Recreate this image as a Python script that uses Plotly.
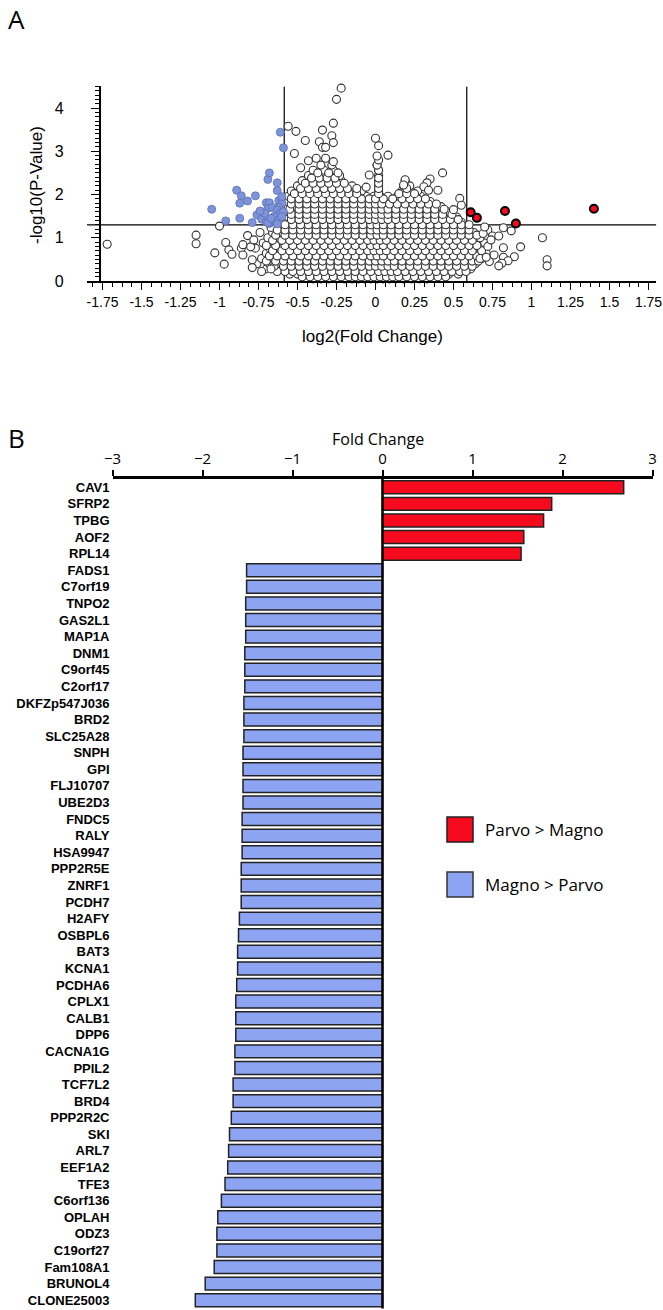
import plotly.graph_objects as go

# ---------------- Panel A data (volcano plot, hand-estimated) ----------------
# dense cloud, listed by rows: row y value and the x positions on that row
cloud_row_y = [0.05, 0.16, 0.28, 0.40, 0.52, 0.64, 0.76, 0.88, 1.00, 1.12, 1.24,
               1.36, 1.48, 1.60, 1.72, 1.84, 1.96, 2.08, 2.20, 2.32, 2.44, 2.56, 2.68]
cloud_row_x = [
    [-0.40, -0.35, -0.30, -0.25, -0.20, -0.15, -0.11, -0.07, -0.03, 0.01, 0.05, 0.09, 0.13, 0.18, 0.23, 0.28, 0.33],
    [-0.55, -0.50, -0.45, -0.40, -0.35, -0.30, -0.25, -0.20, -0.15, -0.10, -0.05, 0.00, 0.04, 0.08, 0.12, 0.17, 0.22, 0.27, 0.32, 0.37, 0.42, 0.47, 0.53],
    [-0.70, -0.60, -0.56, -0.51, -0.46, -0.41, -0.36, -0.31, -0.26, -0.21, -0.16, -0.11, -0.06, -0.01, 0.03, 0.07, 0.11, 0.15, 0.20, 0.25, 0.30, 0.35, 0.40, 0.45, 0.50, 0.55, 0.61],
    [-0.76, -0.68, -0.62, -0.57, -0.52, -0.47, -0.42, -0.37, -0.32, -0.27, -0.22, -0.17, -0.12, -0.07, -0.02, 0.02, 0.06, 0.10, 0.14, 0.19, 0.24, 0.29, 0.34, 0.39, 0.44, 0.49, 0.54, 0.59, 0.64],
    [-0.73, -0.66, -0.61, -0.56, -0.51, -0.46, -0.41, -0.36, -0.31, -0.26, -0.21, -0.16, -0.11, -0.06, -0.01, 0.03, 0.07, 0.12, 0.17, 0.22, 0.27, 0.32, 0.37, 0.42, 0.47, 0.52, 0.57, 0.62, 0.68],
    [-0.70, -0.63, -0.58, -0.53, -0.48, -0.43, -0.38, -0.33, -0.28, -0.23, -0.18, -0.13, -0.08, -0.03, 0.01, 0.05, 0.09, 0.14, 0.19, 0.24, 0.29, 0.34, 0.39, 0.44, 0.49, 0.54, 0.59, 0.64, 0.71],
    [-0.77, -0.68, -0.61, -0.56, -0.51, -0.46, -0.41, -0.36, -0.31, -0.26, -0.21, -0.16, -0.11, -0.06, -0.01, 0.03, 0.07, 0.12, 0.17, 0.22, 0.27, 0.32, 0.37, 0.42, 0.47, 0.52, 0.57, 0.62, 0.67],
    [-0.72, -0.64, -0.58, -0.53, -0.48, -0.43, -0.38, -0.33, -0.28, -0.23, -0.18, -0.13, -0.08, -0.03, 0.01, 0.05, 0.09, 0.14, 0.19, 0.24, 0.29, 0.34, 0.39, 0.44, 0.49, 0.54, 0.59, 0.64, 0.70],
    [-0.69, -0.62, -0.56, -0.51, -0.46, -0.41, -0.36, -0.31, -0.26, -0.21, -0.16, -0.11, -0.06, -0.01, 0.03, 0.07, 0.12, 0.17, 0.22, 0.27, 0.32, 0.37, 0.42, 0.47, 0.52, 0.57, 0.62, 0.67],
    [-0.74, -0.66, -0.60, -0.55, -0.50, -0.45, -0.40, -0.35, -0.30, -0.25, -0.20, -0.15, -0.10, -0.05, 0.00, 0.04, 0.08, 0.13, 0.18, 0.23, 0.28, 0.33, 0.38, 0.43, 0.48, 0.53, 0.58, 0.63],
    [-0.67, -0.61, -0.56, -0.51, -0.46, -0.41, -0.36, -0.31, -0.26, -0.21, -0.16, -0.11, -0.06, -0.01, 0.03, 0.07, 0.12, 0.17, 0.22, 0.27, 0.32, 0.37, 0.42, 0.47, 0.52, 0.57],
    [-0.57, -0.52, -0.47, -0.42, -0.37, -0.32, -0.27, -0.22, -0.17, -0.12, -0.07, -0.02, 0.02, 0.06, 0.10, 0.15, 0.20, 0.25, 0.30, 0.35, 0.40, 0.45, 0.50, 0.55],
    [-0.56, -0.51, -0.46, -0.41, -0.36, -0.31, -0.26, -0.21, -0.16, -0.11, -0.06, -0.01, 0.03, 0.07, 0.12, 0.17, 0.22, 0.27, 0.32, 0.37, 0.42, 0.47, 0.52],
    [-0.57, -0.52, -0.47, -0.42, -0.37, -0.32, -0.27, -0.22, -0.17, -0.12, -0.07, -0.02, 0.02, 0.06, 0.10, 0.15, 0.20, 0.25, 0.30, 0.35, 0.40, 0.46],
    [-0.56, -0.51, -0.46, -0.41, -0.36, -0.31, -0.26, -0.21, -0.16, -0.11, -0.06, -0.01, 0.03, 0.07, 0.12, 0.17, 0.22, 0.27, 0.32, 0.37, 0.42],
    [-0.57, -0.52, -0.47, -0.42, -0.37, -0.32, -0.27, -0.22, -0.17, -0.12, -0.07, -0.02, 0.02, 0.06, 0.10, 0.15, 0.20, 0.25, 0.30, 0.35],
    [-0.56, -0.51, -0.46, -0.41, -0.36, -0.31, -0.26, -0.21, -0.16, -0.11, -0.06, -0.01, 0.03, 0.08, 0.14, 0.19, 0.24, 0.29],
    [-0.54, -0.49, -0.44, -0.39, -0.34, -0.29, -0.24, -0.19, -0.14, -0.09, 0.02, 0.17, 0.22, 0.27],
    [-0.50, -0.45, -0.40, -0.35, -0.30, -0.25, -0.20, -0.15, 0.02, 0.18, 0.22],
    [-0.47, -0.42, -0.37, -0.32, -0.27, -0.22, 0.02, 0.19],
    [-0.43, -0.38, -0.33, -0.28, -0.23, 0.02],
    [-0.40, -0.33, -0.27, 0.02],
    [-0.35, -0.28, 0.01],
]
# in-between rows of the same cloud (the circles overlap heavily in the original)
cloud2_row_y = [0.10, 0.22, 0.34, 0.46, 0.58, 0.70, 0.82, 0.94, 1.06, 1.18, 1.30,
                1.42, 1.54, 1.66, 1.78, 1.90, 2.02, 2.14, 2.26, 2.38, 2.50]
cloud2_row_x = [
    [-0.47, -0.42, -0.37, -0.32, -0.27, -0.22, -0.17, -0.13, -0.09, -0.05, -0.01, 0.03, 0.07, 0.11, 0.15, 0.20, 0.25, 0.30, 0.35, 0.40, 0.45],
    [-0.63, -0.58, -0.53, -0.48, -0.43, -0.38, -0.33, -0.28, -0.23, -0.18, -0.13, -0.08, -0.03, 0.02, 0.06, 0.10, 0.14, 0.19, 0.24, 0.29, 0.34, 0.39, 0.44, 0.49, 0.54, 0.58],
    [-0.65, -0.59, -0.54, -0.49, -0.44, -0.39, -0.34, -0.29, -0.24, -0.19, -0.14, -0.09, -0.04, 0.00, 0.04, 0.08, 0.12, 0.17, 0.22, 0.27, 0.32, 0.37, 0.42, 0.47, 0.52, 0.57, 0.62],
    [-0.70, -0.64, -0.59, -0.54, -0.49, -0.44, -0.39, -0.34, -0.29, -0.24, -0.19, -0.14, -0.09, -0.04, 0.00, 0.04, 0.08, 0.12, 0.17, 0.22, 0.27, 0.32, 0.37, 0.42, 0.47, 0.52, 0.57, 0.62, 0.66],
    [-0.68, -0.63, -0.58, -0.53, -0.48, -0.43, -0.38, -0.33, -0.28, -0.23, -0.18, -0.13, -0.08, -0.03, 0.01, 0.05, 0.10, 0.15, 0.20, 0.25, 0.30, 0.35, 0.40, 0.45, 0.50, 0.55, 0.60, 0.65],
    [-0.66, -0.60, -0.55, -0.50, -0.45, -0.40, -0.35, -0.30, -0.25, -0.20, -0.15, -0.10, -0.05, -0.01, 0.03, 0.07, 0.12, 0.17, 0.22, 0.27, 0.32, 0.37, 0.42, 0.47, 0.52, 0.57, 0.62, 0.68],
    [-0.70, -0.64, -0.58, -0.53, -0.48, -0.43, -0.38, -0.33, -0.28, -0.23, -0.18, -0.13, -0.08, -0.03, 0.01, 0.05, 0.10, 0.15, 0.20, 0.25, 0.30, 0.35, 0.40, 0.45, 0.50, 0.55, 0.60, 0.65],
    [-0.66, -0.60, -0.55, -0.50, -0.45, -0.40, -0.35, -0.30, -0.25, -0.20, -0.15, -0.10, -0.05, -0.01, 0.03, 0.07, 0.12, 0.17, 0.22, 0.27, 0.32, 0.37, 0.42, 0.47, 0.52, 0.57, 0.62],
    [-0.64, -0.58, -0.53, -0.48, -0.43, -0.38, -0.33, -0.28, -0.23, -0.18, -0.13, -0.08, -0.03, 0.01, 0.05, 0.10, 0.15, 0.20, 0.25, 0.30, 0.35, 0.40, 0.45, 0.50, 0.55, 0.60, 0.65],
    [-0.63, -0.58, -0.53, -0.48, -0.43, -0.38, -0.33, -0.28, -0.23, -0.18, -0.13, -0.08, -0.03, 0.01, 0.05, 0.10, 0.15, 0.20, 0.25, 0.30, 0.35, 0.40, 0.45, 0.50, 0.55, 0.60],
    [-0.58, -0.53, -0.48, -0.43, -0.38, -0.33, -0.28, -0.23, -0.18, -0.13, -0.08, -0.03, 0.01, 0.05, 0.10, 0.15, 0.20, 0.25, 0.30, 0.35, 0.40, 0.45, 0.50, 0.55, 0.60],
    [-0.54, -0.49, -0.44, -0.39, -0.34, -0.29, -0.24, -0.19, -0.14, -0.09, -0.04, 0.00, 0.04, 0.08, 0.13, 0.18, 0.23, 0.28, 0.33, 0.38, 0.43, 0.48, 0.53],
    [-0.54, -0.49, -0.44, -0.39, -0.34, -0.29, -0.24, -0.19, -0.14, -0.09, -0.04, 0.00, 0.04, 0.08, 0.13, 0.18, 0.23, 0.28, 0.33, 0.38, 0.43, 0.49],
    [-0.55, -0.49, -0.44, -0.39, -0.34, -0.29, -0.24, -0.19, -0.14, -0.09, -0.04, 0.00, 0.04, 0.08, 0.13, 0.18, 0.23, 0.28, 0.33, 0.38, 0.44],
    [-0.54, -0.49, -0.44, -0.39, -0.34, -0.29, -0.24, -0.19, -0.14, -0.09, -0.04, 0.00, 0.04, 0.09, 0.14, 0.19, 0.24, 0.29, 0.34, 0.39],
    [-0.54, -0.49, -0.44, -0.39, -0.34, -0.29, -0.24, -0.19, -0.14, -0.09, -0.04, 0.00, 0.05, 0.11, 0.17, 0.22, 0.27, 0.32],
    [-0.52, -0.47, -0.42, -0.37, -0.32, -0.27, -0.22, -0.17, -0.12, 0.02, 0.15, 0.20, 0.25],
    [-0.48, -0.43, -0.38, -0.33, -0.28, -0.23, -0.18, -0.12, 0.02, 0.20],
    [-0.45, -0.40, -0.35, -0.30, -0.25, -0.20, 0.02],
    [-0.41, -0.36, -0.31, -0.26, 0.02],
    [-0.37, -0.30, -0.24],
]
# scattered non-significant genes outside the dense cloud
gray_extra_x = [-1.72, -1.15, -1.15, -1.03, -0.97, -0.96, -0.94, -0.92, -0.86, -0.85, -0.85, -0.80, -0.79, -0.79,
                -0.73, -0.67, -1.00, -0.82, -0.78,
                -0.22, -0.25, -0.27, -0.34, -0.28, -0.56, -0.51, -0.45, -0.36, -0.34, -0.32, -0.27, -0.43, -0.38,
                -0.32, -0.27, -0.52, -0.48, -0.04, -0.06,
                0.02, 0.01, 0.02, 0.01, 0.02, 0.00, 0.08,
                0.19, 0.18, 0.43, 0.35, 0.33, 0.31, 0.34, 0.40, 0.54, 0.55, 0.50,
                0.72, 0.69, 0.75, 0.79, 0.82, 0.87, 1.07, 0.82, 0.93, 0.89, 0.82, 0.85, 0.81, 0.79, 1.10, 1.10,
                0.73, 0.76, 0.72, 0.74, 0.70, 0.67, 0.71]
gray_extra_y = [0.85, 1.06, 0.86, 0.65, 0.39, 0.89, 0.72, 0.62, 0.76, 0.84, 0.60, 0.79, 0.49, 0.31,
                0.22, 0.28, 1.27, 1.05, 0.95,
                4.46, 4.20, 3.65, 3.49, 3.36, 3.58, 3.46, 3.25, 3.22, 3.09, 3.09, 3.20, 2.78, 2.84,
                2.84, 2.76, 2.95, 2.62, 2.45, 2.17,
                2.56, 2.68, 2.80, 2.89, 3.13, 3.30, 2.91,
                2.34, 2.22, 2.50, 2.36, 2.27, 2.18, 2.10, 2.10, 1.91, 1.75, 1.65,
                1.18, 1.10, 1.04, 1.04, 1.23, 1.16, 1.00, 0.77, 0.79, 0.56, 0.55, 0.47, 0.41, 0.35, 0.49, 0.35,
                0.45, 0.60, 0.80, 0.95, 1.25, 0.52, 0.55]
# Magno > Parvo (significant, blue)
blue_x = [-1.05, -0.96, -0.87, -0.89, -0.86, -0.87, -0.82, -0.77, -0.79, -0.76, -0.73, -0.70, -0.68, -0.70,
          -0.68, -0.69, -0.71, -0.66, -0.69, -0.68, -0.63, -0.63, -0.62, -0.60, -0.62, -0.63, -0.61, -0.59,
          -0.65, -0.64, -0.62, -0.60, -0.61, -0.59, -0.69, -0.63, -0.74, -0.67, -0.60]
blue_y = [1.66, 1.39, 1.45, 2.10, 1.97, 1.80, 1.85, 1.97, 1.35, 1.53, 1.43, 1.37, 1.33, 1.81,
          1.81, 1.68, 1.57, 1.70, 2.35, 2.50, 2.27, 2.09, 1.86, 1.80, 1.70, 1.64, 1.57, 1.60,
          1.49, 1.37, 1.41, 1.49, 3.44, 3.08, 1.35, 1.32, 1.62, 1.45, 1.95]
# Parvo > Magno (significant, red)
red_x = [0.61, 0.65, 0.83, 0.90, 1.40]
red_y = [1.59, 1.46, 1.62, 1.33, 1.67]

fc_cut = 0.585
p_cut = 1.3
a_ticks = [-1.75, -1.5, -1.25, -1, -0.75, -0.5, -0.25, 0, 0.25, 0.5, 0.75, 1, 1.25, 1.5, 1.75]
a_ticktext = ["-1.75", "-1.5", "-1.25", "-1", "-0.75", "-0.5", "-0.25", "0", "0.25", "0.5", "0.75", "1", "1.25", "1.5", "1.75"]

# ---------------- Panel B data (fold change bars) ----------------
genes = ["CAV1", "SFRP2", "TPBG", "AOF2", "RPL14",
         "FADS1", "C7orf19", "TNPO2", "GAS2L1", "MAP1A", "DNM1", "C9orf45", "C2orf17", "DKFZp547J036",
         "BRD2", "SLC25A28", "SNPH", "GPI", "FLJ10707", "UBE2D3", "FNDC5", "RALY", "HSA9947", "PPP2R5E",
         "ZNRF1", "PCDH7", "H2AFY", "OSBPL6", "BAT3", "KCNA1", "PCDHA6", "CPLX1", "CALB1", "DPP6",
         "CACNA1G", "PPIL2", "TCF7L2", "BRD4", "PPP2R2C", "SKI", "ARL7", "EEF1A2", "TFE3", "C6orf136",
         "OPLAH", "ODZ3", "C19orf27", "Fam108A1", "BRUNOL4", "CLONE25003"]
fold_change = [2.68, 1.88, 1.79, 1.57, 1.54,
               -1.51, -1.51, -1.52, -1.52, -1.52, -1.53, -1.53, -1.53, -1.54,
               -1.54, -1.54, -1.55, -1.55, -1.55, -1.55, -1.56, -1.56, -1.56, -1.57,
               -1.57, -1.57, -1.59, -1.60, -1.61, -1.61, -1.62, -1.63, -1.63, -1.63,
               -1.64, -1.64, -1.66, -1.66, -1.68, -1.70, -1.71, -1.72, -1.75, -1.79,
               -1.83, -1.84, -1.84, -1.87, -1.97, -2.08]
b_ticks = [-3, -2, -1, 0, 1, 2, 3]
legend_labels = ["Parvo > Magno", "Magno > Parvo"]

RED = "#f50a1e"
BLUE_BAR = "#8ca4f2"
BLUE_PT = "#7d94dc"

# ---------------- build figure ----------------
W, H = 663, 1310
def px(x):
    return x / W
def py(y):
    return 1 - y / H

gray_x, gray_y = [], []
for rows_y, rows_x in ((cloud_row_y, cloud_row_x), (cloud2_row_y, cloud2_row_x)):
    for yv, xs in zip(rows_y, rows_x):
        for xv in xs:
            gray_x.append(xv)
            gray_y.append(yv)
gray_x += gray_extra_x
gray_y += gray_extra_y

fig = go.Figure()
fig.add_trace(go.Scatter(x=gray_x, y=gray_y, mode="markers", xaxis="x", yaxis="y", cliponaxis=False,
                         marker=dict(size=8, color="white", line=dict(color="#333333", width=1.1)),
                         showlegend=False))
fig.add_trace(go.Scatter(x=blue_x, y=blue_y, mode="markers", xaxis="x", yaxis="y", cliponaxis=False,
                         marker=dict(size=8, color=BLUE_PT, line=dict(color="#5b6eb0", width=0.8)),
                         showlegend=False))
fig.add_trace(go.Scatter(x=red_x, y=red_y, mode="markers", xaxis="x", yaxis="y", cliponaxis=False,
                         marker=dict(size=8, color=RED, line=dict(color="black", width=2)),
                         showlegend=False))

bar_colors = [RED if v > 0 else BLUE_BAR for v in fold_change]
fig.add_trace(go.Bar(x=fold_change, y=genes, orientation="h", xaxis="x2", yaxis="y2",
                     marker=dict(color=bar_colors, line=dict(color="#222222", width=1.5)),
                     width=0.78, showlegend=False))

shapes = [
    dict(type="line", xref="x", yref="y", x0=-1.85, x1=1.80, y0=p_cut, y1=p_cut,
         line=dict(color="black", width=1.2), layer="below"),
    dict(type="line", xref="x", yref="y", x0=-fc_cut, x1=-fc_cut, y0=0, y1=4.5,
         line=dict(color="black", width=1.2), layer="below"),
    dict(type="line", xref="x", yref="y", x0=fc_cut, x1=fc_cut, y0=0, y1=4.5,
         line=dict(color="black", width=1.2), layer="below"),
    dict(type="line", xref="x2", yref="y2 domain", x0=0, x1=0, y0=0, y1=1,
         line=dict(color="black", width=2.5), layer="above"),
    # legend swatches
    dict(type="rect", xref="paper", yref="paper", x0=px(447), x1=px(473), y0=py(842), y1=py(817),
         fillcolor=RED, line=dict(color="#222222", width=1.5)),
    dict(type="rect", xref="paper", yref="paper", x0=px(447), x1=px(473), y0=py(897), y1=py(872),
         fillcolor=BLUE_BAR, line=dict(color="#333333", width=1.5)),
]

label_font = "Open Sans, Lato, sans-serif"
annotations = [
    dict(text="A", x=px(6), y=py(19), xref="paper", yref="paper", xanchor="left", yanchor="middle",
         showarrow=False, font=dict(family=label_font, size=26, color="black")),
    dict(text="B", x=px(6), y=py(438), xref="paper", yref="paper", xanchor="left", yanchor="middle",
         showarrow=False, font=dict(family=label_font, size=26, color="black")),
    dict(text="log2(Fold Change)", x=px(372), y=py(336), xref="paper", yref="paper", xanchor="center",
         yanchor="middle", showarrow=False, font=dict(family="Liberation Sans, Arial", size=17, color="black")),
    dict(text="-log10(P-Value)", x=px(37), y=py(185), xref="paper", yref="paper", xanchor="center",
         yanchor="middle", textangle=-90, showarrow=False,
         font=dict(family="Liberation Sans, Arial", size=17, color="black")),
    dict(text="Fold Change", x=px(378), y=py(439), xref="paper", yref="paper", xanchor="center",
         yanchor="middle", showarrow=False, font=dict(family=label_font, size=16, color="black")),
    dict(text=legend_labels[0], x=px(483), y=py(829), xref="paper", yref="paper", xanchor="left",
         yanchor="middle", showarrow=False, font=dict(family=label_font, size=17, color="black")),
    dict(text=legend_labels[1], x=px(483), y=py(884), xref="paper", yref="paper", xanchor="left",
         yanchor="middle", showarrow=False, font=dict(family=label_font, size=17, color="black")),
]

fig.update_layout(
    width=W, height=H, margin=dict(l=0, r=0, t=0, b=0, autoexpand=False),
    paper_bgcolor="white", plot_bgcolor="white",
    shapes=shapes, annotations=annotations, bargap=0.2,
    xaxis=dict(domain=[px(86.9), px(656.3)], range=[-1.85, 1.80], anchor="y", automargin=False,
               tickmode="array", tickvals=a_ticks, ticktext=a_ticktext,
               ticks="outside", ticklen=7, tickwidth=1.2, tickcolor="black",
               minor=dict(tickmode="linear", tick0=0, dtick=0.0625, ticks="outside", ticklen=4,
                          tickwidth=1, tickcolor="black"),
               showline=True, linecolor="black", linewidth=1.5, showgrid=False, zeroline=False,
               tickfont=dict(family="Liberation Sans, Arial", size=14, color="black")),
    yaxis=dict(domain=[py(281), py(86.4)], range=[0, 4.5], anchor="free", position=px(99.5), automargin=False,
               tickmode="array", tickvals=[0, 1, 2, 3, 4],
               ticks="outside", ticklen=8, tickwidth=1.2, tickcolor="black",
               minor=dict(tickmode="linear", tick0=0, dtick=0.1, ticks="outside", ticklen=4,
                          tickwidth=1, tickcolor="black"),
               showline=True, linecolor="black", linewidth=1.5, showgrid=False, zeroline=False,
               ticklabelstandoff=24,
               tickfont=dict(family="Liberation Sans, Arial", size=16, color="black")),
    xaxis2=dict(domain=[px(112.5), px(652.5)], range=[-3, 3], anchor="y2", side="top", automargin=False,
                tickmode="array", tickvals=b_ticks,
                ticks="outside", ticklen=6, tickwidth=2, tickcolor="black",
                showline=True, linecolor="black", linewidth=3, showgrid=False, zeroline=False,
                tickfont=dict(family=label_font, size=15, color="black")),
    yaxis2=dict(domain=[py(1308.5), py(479)], anchor="x2", type="category", automargin=False,
                categoryorder="array", categoryarray=genes, autorange="reversed",
                showline=False, ticks="", showgrid=False, zeroline=False, ticklabelstandoff=2,
                tickfont=dict(family="Liberation Sans, Arial", size=13, color="black", weight="bold")),
)

fig.write_html("out.html", config={"displayModeBar": False},
               post_script="document.body.style.margin='0';document.body.style.padding='0';")
